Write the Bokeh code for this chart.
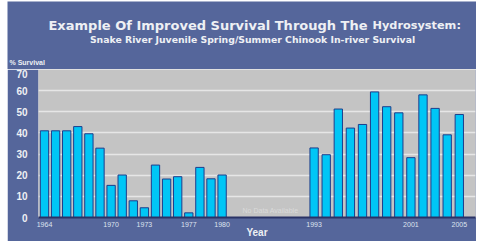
from bokeh.plotting import figure
from bokeh.layouts import column
from bokeh.models import Label, FixedTicker, ColumnDataSource
from bokeh.embed import file_html
from bokeh.resources import INLINE

years_early = list(range(1964, 1981))
surv_early = [41.0, 41.0, 41.0, 43.0, 39.6, 32.8, 15.2, 20.1, 7.9, 4.6, 24.8, 18.2, 19.3, 2.2, 23.7, 18.3, 20.1]
years_late = list(range(1993, 2006))
surv_late = [32.9, 29.7, 51.3, 42.3, 44.0, 59.4, 52.4, 49.5, 28.3, 58.0, 51.6, 39.1, 48.7]
tick_years = [1964, 1970, 1973, 1977, 1980, 1993, 2001, 2005]
y_ticks = [0, 10, 20, 30, 40, 50, 60, 70]

GAP = 8.29
LATE_PITCH = 1.09


def pos(y):
    if y <= 1980:
        return float(y - 1964)
    return round(16 + GAP + (y - 1993) * LATE_PITCH, 3)


years = years_early + years_late
surv = surv_early + surv_late
src = ColumnDataSource(dict(x=[pos(y) for y in years], top=surv))

FONT = "Liberation Sans"
TFONT = "DejaVu Sans"
PANEL = "#55669b"
TXT = "#eef0f4"
W = 469
HEAD_H = 68

# ---- header with titles ----
head = figure(width=W, height=HEAD_H, x_range=(0, W), y_range=(0, HEAD_H),
              output_backend="svg", toolbar_location=None,
              min_border=0, min_border_left=0, min_border_right=0, min_border_top=0, min_border_bottom=0)
if "frame_align" in head.properties():
    head.frame_align = False
head.margin = (1, 0, 0, 7)
head.axis.visible = False
head.grid.visible = False
head.outline_line_color = None
head.background_fill_color = PANEL
head.border_fill_color = PANEL


def lab(text, px, py, size, align="left", baseline="middle", bold=True, color=TXT, font=TFONT):
    head.add_layout(Label(x=px - 7, y=69 - py, text=text, text_font=font, text_font_size=size,
                          text_font_style="bold" if bold else "normal",
                          text_color=color, text_align=align, text_baseline=baseline))


lab("Example Of Improved Survival Through The", 367, 25, "13px", align="right", baseline="alphabetic")
lab("Hydrosystem:", 372, 25, "11.3px", baseline="alphabetic")
lab("Snake River Juvenile Spring/Summer Chinook In-river Survival", 252, 39, "9.3px", align="center")
lab("% Survival", 9, 62, "7px", font=FONT)

# ---- main chart ----
p = figure(width=W, height=172, x_range=(-0.54, 38.83), y_range=(0, 70),
           output_backend="svg", toolbar_location=None,
           min_border_left=31, min_border_right=1, min_border_top=0, min_border_bottom=24)
if "frame_align" in p.properties():
    p.frame_align = False
p.margin = (0, 0, 0, 7)
p.border_fill_color = PANEL
p.background_fill_color = "#c4c4c4"
p.outline_line_color = None

p.vbar(x="x", top="top", width=0.75, source=src,
       fill_color="#00c6f6", line_color="#1d3d8c", line_width=1)

p.xgrid.visible = False
p.ygrid.ticker = FixedTicker(ticks=[10, 20, 30, 40, 50, 60, 70])
p.ygrid.grid_line_color = "#e6e6e6"
p.ygrid.grid_line_width = 1.5

p.yaxis.ticker = FixedTicker(ticks=y_ticks)
p.yaxis.axis_line_color = None
p.yaxis.major_tick_line_color = None
p.yaxis.minor_tick_line_color = None
p.yaxis.major_tick_out = 0
p.yaxis.major_label_standoff = 11
p.yaxis.major_label_text_font = FONT
p.yaxis.major_label_text_font_style = "bold"
p.yaxis.major_label_text_font_size = "10px"
p.yaxis.major_label_text_color = TXT

tick_pos = [pos(y) for y in tick_years]
xa = p.xaxis[0]
xa.ticker = FixedTicker(ticks=tick_pos)
xa.major_label_overrides = {tp: str(y) for tp, y in zip(tick_pos, tick_years)}
xa.axis_line_color = "#2a3366"
xa.axis_line_width = 2
xa.major_tick_line_color = None
xa.minor_tick_line_color = None
xa.major_tick_out = 0
xa.major_label_standoff = 4
xa.major_label_text_font = FONT
xa.major_label_text_font_size = "7px"
xa.major_label_text_color = "#dde3ef"
xa.axis_label = "Year"
xa.axis_label_standoff = -3
xa.axis_label_text_font = FONT
xa.axis_label_text_font_size = "10px"
xa.axis_label_text_font_style = "bold"
xa.axis_label_text_color = TXT

p.add_layout(Label(x=20.36, y=3.3, text="No Data Available", text_font=FONT, text_font_size="7px",
                   text_color="#dadada", text_align="center", text_baseline="middle"))

layout = column(head, p, spacing=0)
open("out.html", "w").write(file_html(layout, INLINE))
